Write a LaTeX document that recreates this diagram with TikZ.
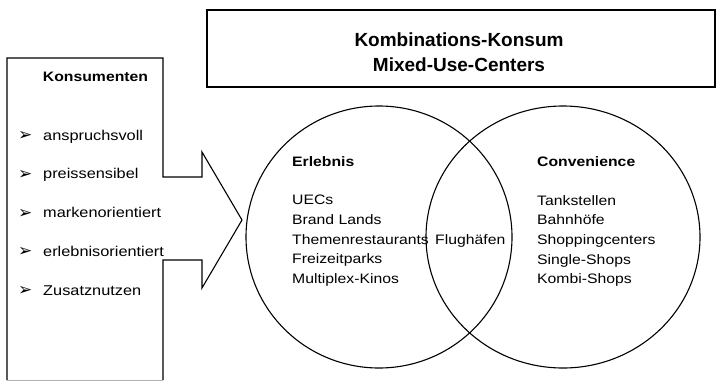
\documentclass[tikz,border=0pt]{standalone}
\usepackage{fontspec}
\setmainfont{Liberation Sans}
\newfontfamily\widefont{Liberation Sans}[FakeStretch=1.15]
\newfontfamily\symfont{DejaVu Sans}
\tikzset{
  outline/.style={draw=black, line width=1.1pt, line join=miter},
  circ/.style={draw=black, line width=1.1pt},
  toptext/.style={inner sep=0pt, align=center, font=\fontsize{19}{25}\selectfont\bfseries},
  headtext/.style={inner sep=0pt, font=\widefont\fontsize{13.7}{19.6}\selectfont\bfseries},
  listtext/.style={inner sep=0pt, align=left, font=\widefont\fontsize{13.7}{19.6}\selectfont},
  itemtext/.style={inner sep=0pt, anchor=base west, font=\widefont\fontsize{14.2}{17}\selectfont},
  bullet/.style={inner sep=0pt, anchor=base west, font=\symfont\fontsize{17}{18}\selectfont},
}
\begin{document}
\begin{tikzpicture}[x=1pt, y=-1pt]
\useasboundingbox (0,0) rectangle (719,381);
% top box
\draw[outline] (207,10) rectangle (715,87);
\node[toptext, anchor=north] (top) at (459,33) {Kombinations-Konsum\\Mixed-Use-Centers};
% left box with arrow
\draw[outline] (7,380) -- (7,58) -- (163,58) -- (163,177) -- (202,177) -- (202,152)
  -- (242,220) -- (202,288) -- (202,260) -- (163,260) -- (163,380);
\draw[gray!60, line width=0.8pt] (7,380) -- (163,380);
\node[headtext, anchor=base] (kons) at (95.5,81) {Konsumenten};
\node[bullet] (b1) at (18,140.5) {➢};
\node[bullet] (b2) at (18,179.3) {➢};
\node[bullet] (b3) at (18,218.1) {➢};
\node[bullet] (b4) at (18,256.9) {➢};
\node[bullet] (b5) at (18,295.7) {➢};
\node[itemtext] (i1) at (43,140) {anspruchsvoll};
\node[itemtext] (i2) at (43,178.8) {preissensibel};
\node[itemtext] (i3) at (43,217.6) {markenorientiert};
\node[itemtext] (i4) at (43,256.4) {erlebnisorientiert};
\node[itemtext] (i5) at (43,295.2) {Zusatznutzen};
% circles
\draw[circ] (379,237) ellipse [x radius=133, y radius=131];
\draw[circ] (563,237) ellipse [x radius=137, y radius=131];
% circle texts
\node[headtext, anchor=base west] (erl) at (292,166) {Erlebnis};
\node[listtext, anchor=north west] (erllist) at (292,195.2) {UECs\\Brand Lands\\Themenrestaurants\\Freizeitparks\\Multiplex-Kinos};
\node[listtext, anchor=base west] (flug) at (435,244) {Flughäfen};
\node[headtext, anchor=base west] (conv) at (537,166) {Convenience};
\node[listtext, anchor=north west] (convlist) at (537,195.2) {Tankstellen\\Bahnhöfe\\Shoppingcenters\\Single-Shops\\Kombi-Shops};
\end{tikzpicture}
\end{document}
